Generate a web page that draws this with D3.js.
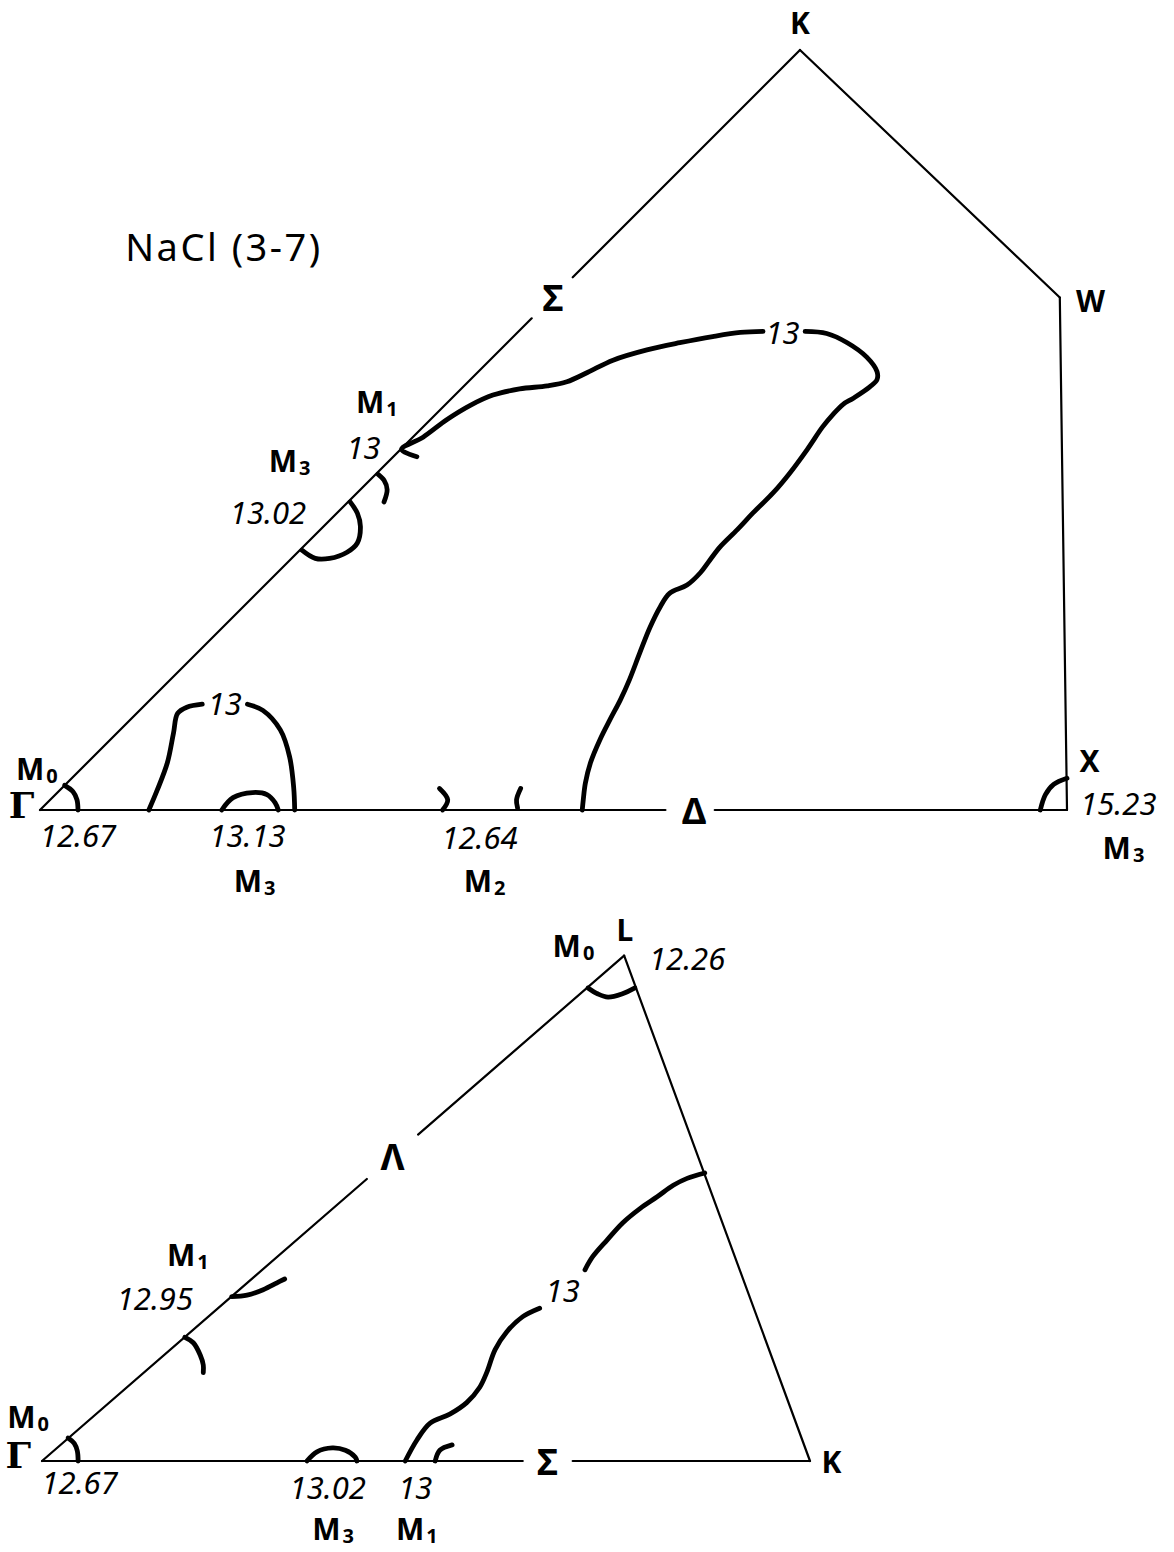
<!DOCTYPE html>
<html>
<head>
<meta charset="utf-8">
<script src="https://cdn.jsdelivr.net/npm/d3@7"></script>
<style>
  body { margin: 0; background: #fff; }
  svg { display: block; background: #fff; }
  .edge { stroke: #000; stroke-width: 2.2; fill: none; stroke-linecap: round; }
  .contour { stroke: #000; stroke-width: 4.8; fill: none; stroke-linecap: round; stroke-linejoin: round; }
  text { font-family: "Noto Sans", "DejaVu Sans", sans-serif; fill: #000; }
  .num { font-style: italic; font-size: 31px; }
  .pt { font-weight: bold; font-size: 30px; }
  .m { font-weight: bold; font-size: 30px; }
  .gamma { font-family: "DejaVu Serif", serif; font-weight: bold; font-size: 36px; }
  .greek { font-weight: bold; font-size: 36px; }
  .title { font-size: 38px; letter-spacing: 2.5px; }
</style>
</head>
<body>
<svg id="chart" width="1174" height="1552"></svg>
<script>
// ---------- Section Γ-K-W-X (kz = 0 plane), coordinates in units of Γ-X ----------
const topVertices = [
  { name: "Γ", u: 0.000, v: 0.000 },
  { name: "K", u: 0.740, v: 0.740 },
  { name: "W", u: 0.993, v: 0.499 },
  { name: "X", u: 1.000, v: 0.000 }
];
const topEdges = [
  { from: "Γ", to: "K", gap: [0.647, 0.701], symbol: "Σ", at: 0.675 },
  { from: "K", to: "W" },
  { from: "W", to: "X" },
  { from: "Γ", to: "X", gap: [0.609, 0.657], symbol: "Δ", at: 0.637 }
];
// 13 eV constant-energy contour (broken where its label sits)
const topContour13a = [
  [0.367, 0.344], [0.352, 0.351], [0.373, 0.363], [0.396, 0.380], [0.419, 0.394],
  [0.441, 0.404], [0.467, 0.410], [0.494, 0.413], [0.513, 0.417], [0.533, 0.426],
  [0.558, 0.438], [0.591, 0.448], [0.623, 0.455], [0.655, 0.461], [0.682, 0.465],
  [0.704, 0.466]
];
const topContour13b = [
  [0.745, 0.466], [0.766, 0.464], [0.786, 0.455], [0.805, 0.441], [0.815, 0.427],
  [0.815, 0.419], [0.808, 0.412], [0.792, 0.401], [0.782, 0.395], [0.772, 0.385],
  [0.762, 0.373], [0.747, 0.351], [0.730, 0.328], [0.714, 0.309], [0.694, 0.289],
  [0.679, 0.273], [0.662, 0.256], [0.652, 0.243], [0.643, 0.231], [0.630, 0.219],
  [0.613, 0.211], [0.604, 0.198], [0.594, 0.178], [0.584, 0.153], [0.574, 0.127],
  [0.565, 0.107], [0.555, 0.088], [0.545, 0.068], [0.536, 0.046], [0.531, 0.026],
  [0.529, 0.010], [0.528, 0.000]
];
const topPocket13a = [
  [0.106, 0.000], [0.114, 0.019], [0.124, 0.046], [0.130, 0.075], [0.134, 0.094],
  [0.143, 0.100], [0.158, 0.103]
];
const topPocket13b = [
  [0.202, 0.103], [0.217, 0.097], [0.234, 0.078], [0.243, 0.052], [0.247, 0.022],
  [0.248, 0.000]
];
// small loops around critical points
const topArcM3Delta = [[0.177, 0.000], [0.188, 0.012], [0.207, 0.017], [0.221, 0.015], [0.229, 0.007], [0.232, 0.000]];
const topArcM2a = [[0.389, 0.021], [0.397, 0.010], [0.392, 0.000]];
const topArcM2b = [[0.468, 0.021], [0.464, 0.010], [0.465, 0.002]];
const topArcGamma = [[0.024, 0.024], [0.032, 0.018], [0.036, 0.010], [0.037, 0.000]];
const topArcX = [[0.974, 0.000], [0.979, 0.015], [0.987, 0.025], [1.000, 0.031]];
const topArcM3Sigma = [
  [0.302, 0.300], [0.309, 0.289], [0.312, 0.276], [0.309, 0.260], [0.299, 0.251],
  [0.282, 0.245], [0.268, 0.245], [0.255, 0.253]
];
const topArcM1Sigma = [[0.329, 0.327], [0.335, 0.321], [0.338, 0.312], [0.335, 0.300]];

const topLabels = [
  { text: "K", u: 0.740, v: 0.767, cls: "pt" },
  { text: "W", u: 1.023, v: 0.497, cls: "pt" },
  { text: "X", u: 1.022, v: 0.049, cls: "pt" },
  { text: "15.23", u: 1.050, v: 0.007, cls: "num" },
  { text: "M", sub: "3", u: 1.055, v: -0.036, cls: "m" },
  { text: "M", sub: "1", u: 0.328, v: 0.398, cls: "m" },
  { text: "13", u: 0.315, v: 0.353, cls: "num" },
  { text: "M", sub: "3", u: 0.243, v: 0.341, cls: "m" },
  { text: "13.02", u: 0.222, v: 0.290, cls: "num" },
  { text: "13", u: 0.723, v: 0.465, cls: "num" },
  { text: "13", u: 0.180, v: 0.104, cls: "num" },
  { text: "M", sub: "0", u: -0.003, v: 0.041, cls: "m" },
  { text: "Γ", u: -0.018, v: 0.005, cls: "gamma" },
  { text: "12.67", u: 0.037, v: -0.024, cls: "num" },
  { text: "13.13", u: 0.202, v: -0.024, cls: "num" },
  { text: "M", sub: "3", u: 0.209, v: -0.068, cls: "m" },
  { text: "12.64", u: 0.428, v: -0.026, cls: "num" },
  { text: "M", sub: "2", u: 0.433, v: -0.068, cls: "m" }
];
const titleText = { text: "NaCl (3-7)", u: 0.083, v: 0.549 };

// ---------- Section Γ-L-K, coordinates in units of Γ-K ----------
const botVertices = [
  { name: "Γ", u: 0.000, v: 0.000 },
  { name: "L", u: 0.758, v: 0.658 },
  { name: "K", u: 1.000, v: 0.000 }
];
const botEdges = [
  { from: "Γ", to: "L", gap: [0.558, 0.646], symbol: "Λ", at: 0.602 },
  { from: "L", to: "K" },
  { from: "Γ", to: "K", gap: [0.626, 0.691], symbol: "Σ", at: 0.658 }
];
const botContour13a = [
  [0.863, 0.375], [0.840, 0.368], [0.822, 0.359], [0.801, 0.344], [0.779, 0.329],
  [0.756, 0.310], [0.736, 0.288], [0.717, 0.266], [0.707, 0.249]
];
const botContour13b = [
  [0.648, 0.199], [0.626, 0.188], [0.605, 0.168], [0.590, 0.145], [0.579, 0.115],
  [0.570, 0.096], [0.553, 0.076], [0.531, 0.061], [0.505, 0.049], [0.488, 0.027],
  [0.473, 0.000]
];
const botArcM1Sigma = [[0.512, 0.000], [0.518, 0.014], [0.534, 0.021]];
const botArcM3Sigma = [[0.345, 0.000], [0.358, 0.012], [0.378, 0.017], [0.395, 0.014], [0.408, 0.005], [0.410, 0.000]];
const botArcGamma = [[0.034, 0.030], [0.042, 0.023], [0.046, 0.013], [0.047, 0.000]];
const botArcL = [[0.711, 0.616], [0.724, 0.608], [0.737, 0.604], [0.755, 0.608], [0.772, 0.616]];
const botArcM1Lambda = [[0.247, 0.214], [0.267, 0.216], [0.288, 0.223], [0.306, 0.232], [0.316, 0.237]];
const botArcLambda = [[0.186, 0.161], [0.197, 0.154], [0.206, 0.138], [0.210, 0.125], [0.210, 0.115]];

const botLabels = [
  { text: "L", u: 0.759, v: 0.693, cls: "pt" },
  { text: "M", sub: "0", u: 0.692, v: 0.672, cls: "m" },
  { text: "12.26", u: 0.840, v: 0.655, cls: "num" },
  { text: "M", sub: "1", u: 0.190, v: 0.270, cls: "m" },
  { text: "12.95", u: 0.147, v: 0.212, cls: "num" },
  { text: "13", u: 0.678, v: 0.223, cls: "num" },
  { text: "M", sub: "0", u: -0.018, v: 0.058, cls: "m" },
  { text: "Γ", u: -0.031, v: 0.008, cls: "gamma" },
  { text: "12.67", u: 0.049, v: -0.027, cls: "num" },
  { text: "13.02", u: 0.372, v: -0.034, cls: "num" },
  { text: "13", u: 0.486, v: -0.034, cls: "num" },
  { text: "M", sub: "3", u: 0.379, v: -0.087, cls: "m" },
  { text: "M", sub: "1", u: 0.488, v: -0.087, cls: "m" },
  { text: "K", u: 1.028, v: 0.000, cls: "pt" }
];

// ---------- drawing ----------
const svg = d3.select("#chart");

function drawPanel(sx, sy, vertices, edges, contours, labels) {
  const g = svg.append("g");
  const P = name => vertices.find(d => d.name === name);
  const lerp = (a, b, t) => [a.u + (b.u - a.u) * t, a.v + (b.v - a.v) * t];

  edges.forEach(e => {
    const a = P(e.from), b = P(e.to);
    const pieces = e.gap ? [[0, e.gap[0]], [e.gap[1], 1]] : [[0, 1]];
    pieces.forEach(([t0, t1]) => {
      const p0 = lerp(a, b, t0), p1 = lerp(a, b, t1);
      g.append("line").attr("class", "edge")
        .attr("x1", sx(p0[0])).attr("y1", sy(p0[1]))
        .attr("x2", sx(p1[0])).attr("y2", sy(p1[1]));
    });
    if (e.symbol) {
      const p = lerp(a, b, e.at);
      g.append("text").attr("class", "greek")
        .attr("x", sx(p[0])).attr("y", sy(p[1]))
        .attr("text-anchor", "middle").attr("dominant-baseline", "central")
        .text(e.symbol);
    }
  });

  const line = d3.line()
    .x(d => sx(d[0])).y(d => sy(d[1]))
    .curve(d3.curveCatmullRom.alpha(0.5));
  g.selectAll("path.contour").data(contours).join("path")
    .attr("class", "contour").attr("d", d => line(d));

  labels.forEach(l => {
    const t = g.append("text").attr("class", l.cls)
      .attr("x", sx(l.u)).attr("y", sy(l.v))
      .attr("text-anchor", "middle").attr("dominant-baseline", "central");
    t.append("tspan").text(l.text);
    if (l.sub) {
      t.append("tspan").attr("font-size", "20px").attr("dx", 2).attr("dy", 7).text(l.sub);
    }
  });
  return g;
}

// top section scales
const xTop = d3.scaleLinear().domain([0, 1]).range([40, 1067]);
const yTop = d3.scaleLinear().domain([0, 1]).range([810, -217]);
drawPanel(xTop, yTop, topVertices, topEdges,
  [topContour13a, topContour13b, topPocket13a, topPocket13b, topArcM3Delta,
   topArcM2a, topArcM2b, topArcGamma, topArcX, topArcM3Sigma, topArcM1Sigma],
  topLabels);

svg.append("text").attr("class", "title")
  .attr("x", xTop(titleText.u)).attr("y", yTop(titleText.v))
  .attr("dominant-baseline", "central")
  .text(titleText.text);

// bottom section scales
const xBot = d3.scaleLinear().domain([0, 1]).range([42, 810]);
const yBot = d3.scaleLinear().domain([0, 1]).range([1461, 693]);
drawPanel(xBot, yBot, botVertices, botEdges,
  [botContour13a, botContour13b, botArcM1Sigma, botArcM3Sigma, botArcGamma,
   botArcL, botArcM1Lambda, botArcLambda],
  botLabels);
</script>
</body>
</html>
